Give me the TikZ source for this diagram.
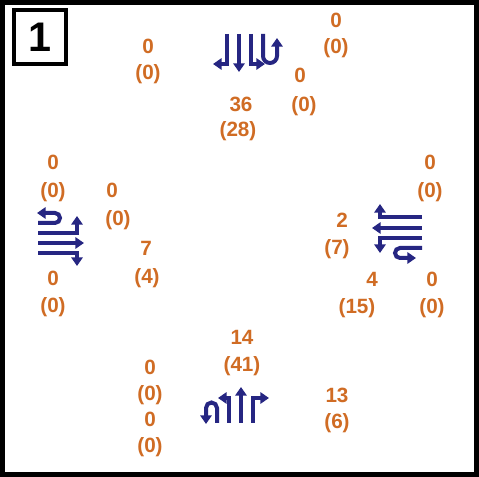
\documentclass[tikz,border=0pt]{standalone}
\usepackage{fontspec}
\setmainfont{Liberation Sans}
\usetikzlibrary{arrows.meta}
\definecolor{vol}{RGB}{208,108,36}
\definecolor{lane}{RGB}{38,38,130}
\begin{document}
\begin{tikzpicture}[x=0.75pt,y=-0.75pt,
  num/.style={text=vol,font=\fontsize{15.5}{15.5}\selectfont\bfseries,inner sep=0pt,text height=11.1pt,text depth=0pt},
  lanearrow/.style={draw=lane,line width=3pt,-{Triangle[width=8.5pt,length=6.5pt]}},
  idbox/.style={draw=black,line width=3pt,minimum width=39pt,minimum height=41pt,inner sep=0pt,font=\fontsize{31}{31}\selectfont\bfseries}
  ]
\useasboundingbox (0,0) rectangle (479,477);
\fill[white] (0,0) rectangle (479,477);
\draw[line width=3.3pt] (2.5,2.5) rectangle (476.5,474.5);
\fill[black] (0,0) rectangle (5,477);
\node[idbox] (id) at (40,37) {1};

% top approach
\node[num] (n1) at (148,46) {0};
\node[num] (n1b) at (148,72) {(0)};
\node[num] (n2) at (336,20) {0};
\node[num] (n2b) at (336,46) {(0)};
\node[num] (n3) at (300,75) {0};
\node[num] (n3b) at (304,104) {(0)};
\node[num] (n4) at (241,104) {36};
\node[num] (n4b) at (238,129) {(28)};
% left approach
\node[num] (w1) at (53,162) {0};
\node[num] (w1b) at (53,190) {(0)};
\node[num] (w2) at (112,190) {0};
\node[num] (w2b) at (118,218) {(0)};
\node[num] (w3) at (146,248) {7};
\node[num] (w3b) at (147,276) {(4)};
\node[num] (w4) at (53,278) {0};
\node[num] (w4b) at (53,305) {(0)};
% right approach
\node[num] (e1) at (430,162) {0};
\node[num] (e1b) at (430,190) {(0)};
\node[num] (e2) at (342,220) {2};
\node[num] (e2b) at (337,247) {(7)};
\node[num] (e3) at (372,279) {4};
\node[num] (e3b) at (357,306) {(15)};
\node[num] (e4) at (432,279) {0};
\node[num] (e4b) at (432,306) {(0)};
% bottom approach
\node[num] (s1) at (242,337) {14};
\node[num] (s1b) at (242,364) {(41)};
\node[num] (s2) at (150,367) {0};
\node[num] (s2b) at (150,393) {(0)};
\node[num] (s3) at (150,419) {0};
\node[num] (s3b) at (150,445) {(0)};
\node[num] (s4) at (337,395) {13};
\node[num] (s4b) at (337,421) {(6)};

% top lane arrows
\draw[lanearrow] (227,34) -- (227,64) -- (213,64);
\draw[lanearrow] (239,34) -- (239,72);
\draw[lanearrow] (251,34) -- (251,64) -- (265,64);
\draw[lanearrow] (263,34) -- (263,56) arc[start angle=180,end angle=0,radius=7] -- (277,38);
% left lane arrows
\draw[lanearrow] (38,243) -- (84,243);
\draw[lanearrow] (38,253) -- (77,253) -- (77,266);
\draw[lanearrow] (38,233) -- (77,233) -- (77,216);
\draw[lanearrow] (38,223) -- (55,223) arc[start angle=90,end angle=-90,radius=5] -- (37,213);
% right lane arrows
\draw[lanearrow] (422,228) -- (372,228);
\draw[lanearrow] (422,217) -- (380,217) -- (380,204);
\draw[lanearrow] (422,238) -- (380,238) -- (380,253);
\draw[lanearrow] (422,248) -- (400,248) arc[start angle=-90,end angle=-270,radius=5] -- (416,258);
% bottom lane arrows
\draw[lanearrow] (241,423) -- (241,387);
\draw[lanearrow] (229,423) -- (229,398) -- (218,398);
\draw[lanearrow] (253,423) -- (253,398) -- (269,398);
\draw[lanearrow] (217,423) -- (217,408) arc[start angle=0,end angle=-180,radius=5.5] -- (206,424);
\end{tikzpicture}
\end{document}
